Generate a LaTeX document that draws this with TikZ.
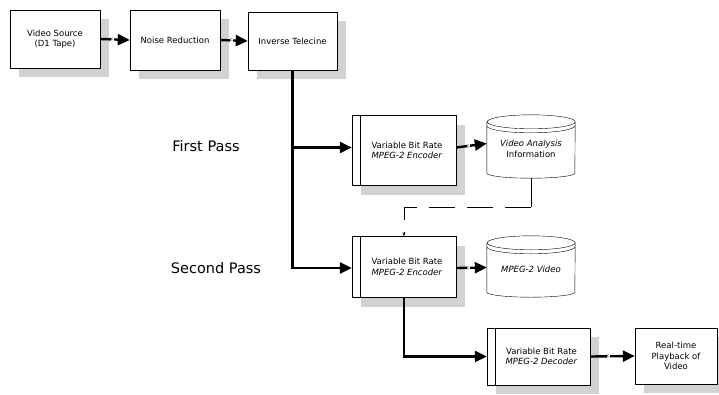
\documentclass[tikz,border=0pt]{standalone}
\usepackage{fontspec}
\setmainfont{DejaVu Sans}
\usetikzlibrary{arrows.meta,shadows}
\tikzset{
  block/.style={draw, fill=white, align=center, inner sep=1pt,
    font=\fontsize{8.5}{10.5}\selectfont,
    drop shadow={shadow xshift=9pt, shadow yshift=-9pt, fill=gray!35, opacity=1}},
  store/.style={align=center, inner sep=0pt, minimum width=88pt,
    font=\fontsize{8.5}{10.5}\selectfont},
  flow/.style={line width=2.4pt, -{Triangle[length=12pt,width=11pt]}},
  tag/.style={font=\fontsize{4.5}{4.5}\selectfont, inner sep=0.3pt, fill=white},
  passlabel/.style={font=\fontsize{14.5}{16}\selectfont}
}
% strip on the left side of a block
\newcommand{\leftstrip}[1]{\draw ([xshift=8pt]#1.north west) -- ([xshift=8pt]#1.south west);}
% storage drum round a node
\newcommand{\drumoutline}[1]{
  \draw ([yshift=-7pt]#1.north west) -- ([yshift=5pt]#1.south west)
    arc[start angle=180, end angle=360, x radius=44pt, y radius=5pt]
    -- ([yshift=-7pt]#1.north east)
    arc[start angle=0, end angle=180, x radius=44pt, y radius=7pt]
    arc[start angle=180, end angle=360, x radius=44pt, y radius=7pt];
  \draw ([yshift=-11pt]#1.north west)
    arc[start angle=180, end angle=360, x radius=44pt, y radius=7pt];
}
\begin{document}
\begin{tikzpicture}[x=1pt, y=1pt]
  \useasboundingbox (0,0) rectangle (719,-394);
  % Top row
  \node[block, minimum width=90pt, minimum height=58pt] (src) at (55,-39) {Video Source\\(D1 Tape)};
  \node[block, minimum width=90pt, minimum height=60pt] (noise) at (175,-40) {Noise Reduction};
  \node[block, minimum width=89pt, minimum height=58pt] (itc) at (292.5,-41) {Inverse Telecine};
  % Encoders and decoder
  \node[block, minimum width=104pt, minimum height=70pt] (enc1) at (404,-150.5) {\hspace*{6pt}Variable Bit Rate\\\hspace*{6pt}\textit{MPEG-2 Encoder}};
  \node[block, minimum width=104pt, minimum height=61pt] (enc2) at (404,-267) {\hspace*{6pt}Variable Bit Rate\\\hspace*{6pt}\textit{MPEG-2 Encoder}};
  \node[block, minimum width=103pt, minimum height=57pt] (dec) at (538.5,-356.5) {\hspace*{6pt}Variable Bit Rate\\\hspace*{6pt}\textit{MPEG-2 Decoder}};
  \node[block, minimum width=82pt, minimum height=56pt] (play) at (676,-356) {Real-time\\Playback of\\Video};
  \leftstrip{enc1}
  \leftstrip{enc2}
  \leftstrip{dec}
  % Storage
  \node[store, minimum height=63pt] (va) at (531,-146.5) {\\[1pt]\textit{Video Analysis}\\Information};
  \node[store, minimum height=61pt] (mv) at (531,-266.5) {\\[1pt]\textit{MPEG-2 Video}};
  \drumoutline{va}
  \drumoutline{mv}
  % Pass labels
  \node[passlabel] (first) at (206,-146) {First Pass};
  \node[passlabel] (second) at (216,-268) {Second Pass};
  % Connectors
  \draw[flow] (src.east) -- node[tag, pos=0.4] {c} (noise.west);
  \draw[flow] (noise.east) -- node[tag, pos=0.4] {c} (itc.west);
  \draw[flow] (itc.south) |- ([yshift=3pt]enc1.west);
  \draw[flow] (itc.south) |- ([yshift=-1pt]enc2.west);
  \draw[flow] ([yshift=3pt]enc1.east) -- node[tag, pos=0.4] {c} ([yshift=3pt]va.west);
  \draw[flow] ([yshift=-1pt]enc2.east) -- node[tag, pos=0.4] {c} ([yshift=-1pt]mv.west);
  \draw[flow] (enc2.south) |- (dec.west);
  \draw[flow] (dec.east) -- node[tag, pos=0.4] {c} (play.west);
  % Feedback from analysis
  \coordinate (fb) at (531,-207);
  \draw (va.south) -- (fb);
  \draw[dash pattern=on 26pt off 12pt, -{Stealth[length=4pt,width=3pt]}] (fb) -| (enc2.north);
\end{tikzpicture}
\end{document}
